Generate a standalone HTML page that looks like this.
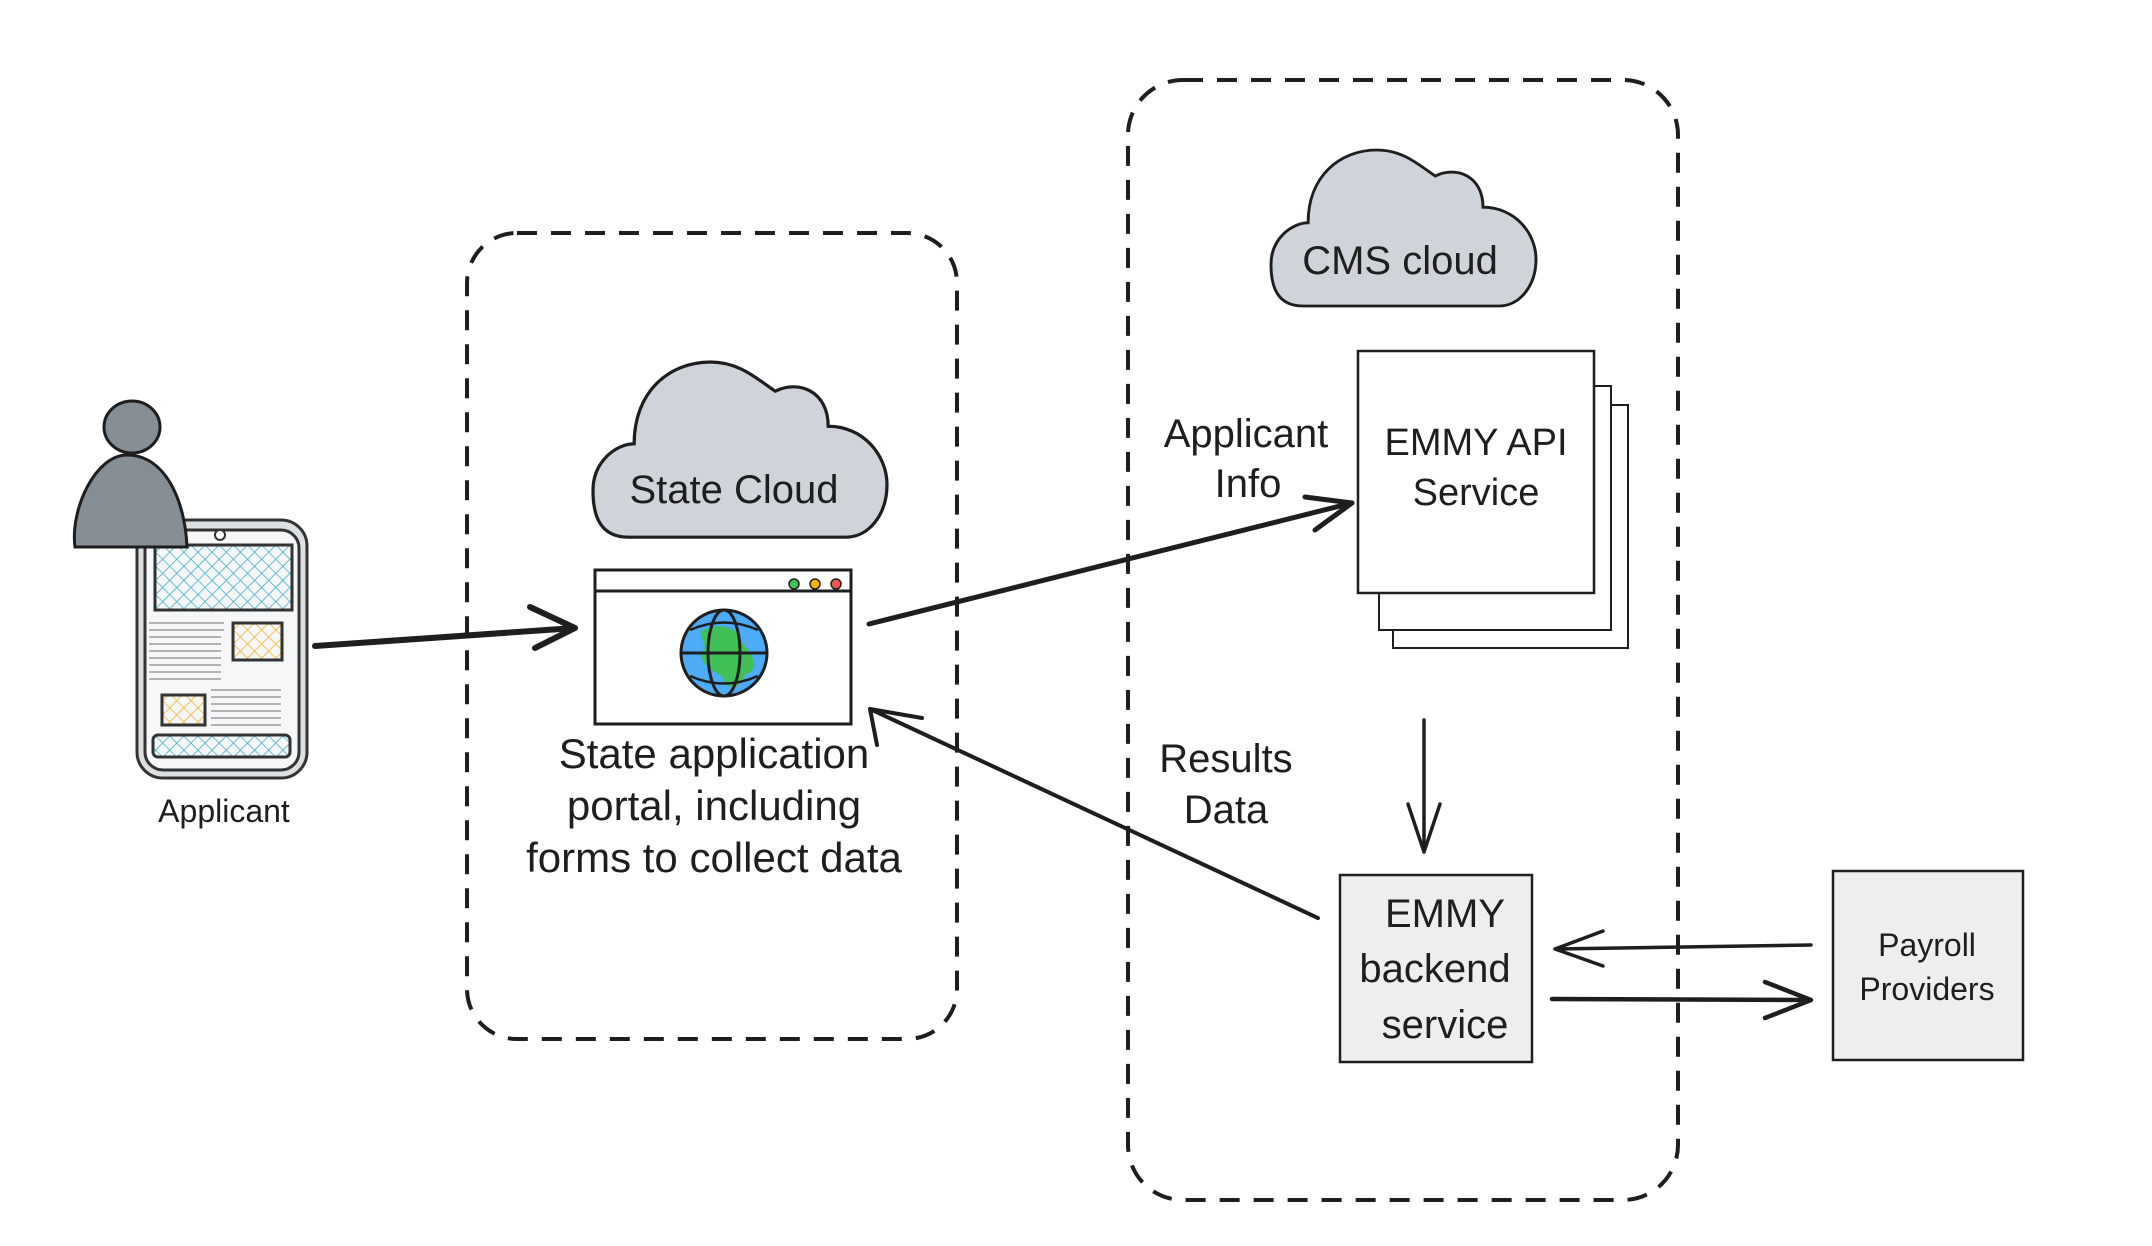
<!DOCTYPE html>
<html><head><meta charset="utf-8"><style>
html,body{margin:0;padding:0;background:#fff;}
svg{display:block;}
text{font-family:"Liberation Sans",sans-serif;fill:#1e1e1e;}
</style></head><body>
<svg width="2152" height="1246" viewBox="0 0 2152 1246" xmlns="http://www.w3.org/2000/svg">
<defs>
<pattern id="hb" width="10" height="10" patternUnits="userSpaceOnUse" patternTransform="rotate(45)">
<rect width="10" height="10" fill="#f6f7f9"/><path d="M0,0V10M0,0H10" stroke="#3fb0c8" stroke-width="1.6"/></pattern>
<pattern id="hy" width="10" height="10" patternUnits="userSpaceOnUse" patternTransform="rotate(45)">
<rect width="10" height="10" fill="#f6f7f9"/><path d="M0,0V10M0,0H10" stroke="#f4b52a" stroke-width="1.6"/></pattern>
<path id="cloud" d="M12,60 C2,60 0,52 0,44 C0,34 8,28 14,28 C14,10 26,0 40,0 C50,0 56,6 62,10 C70,6 80,10 80,22 C92,22 100,32 100,42 C100,52 94,60 86,60 Z"/>
</defs>

<rect x="467" y="233" width="490" height="806" rx="50" fill="none" stroke="#1e1e1e" stroke-width="4" stroke-dasharray="20 14"/>
<rect x="1128" y="80" width="550" height="1120" rx="55" fill="none" stroke="#1e1e1e" stroke-width="4" stroke-dasharray="20 14"/>

<rect x="137" y="520" width="170" height="258" rx="26" fill="#dde0e3" stroke="#333" stroke-width="3"/>
<rect x="145" y="530" width="154" height="240" rx="18" fill="#f6f7f9" stroke="#333" stroke-width="3"/>
<circle cx="220" cy="535" r="5" fill="#fff" stroke="#333" stroke-width="2"/>
<rect x="155" y="545" width="137" height="65" fill="url(#hb)" stroke="#333" stroke-width="3"/>
<rect x="233" y="623" width="49" height="37" fill="url(#hy)" stroke="#333" stroke-width="3"/>
<rect x="162" y="695" width="43" height="30" fill="url(#hy)" stroke="#333" stroke-width="3"/>
<rect x="153" y="735" width="137" height="22" rx="5" fill="url(#hb)" stroke="#333" stroke-width="3"/>
<g stroke="#888" stroke-width="1.2">
<path d="M149,623h75M149,630h75M149,637h72M149,644h72M149,651h72M149,658h72M149,665h72M149,672h72M149,679h72"/>
<path d="M211,690h70M211,697h70M211,704h70M211,711h70M211,718h70M211,725h70"/>
</g>

<ellipse cx="132" cy="427" rx="28" ry="26" fill="#868e96" stroke="#1e1e1e" stroke-width="3"/>
<path d="M75,547 C70,510 95,455 127,455 C165,455 185,500 187,547 Z" fill="#868e96" stroke="#1e1e1e" stroke-width="3"/>
<text x="224" y="822" font-size="32" text-anchor="middle">Applicant</text>

<use href="#cloud" transform="translate(593,362) scale(2.94,2.92)" fill="#ced4da" stroke="#1e1e1e" stroke-width="1.1"/>
<text x="734" y="503" font-size="40" text-anchor="middle">State Cloud</text>

<rect x="595" y="570" width="256" height="154" fill="#fff" stroke="#1e1e1e" stroke-width="3"/>
<line x1="595" y1="591" x2="851" y2="591" stroke="#1e1e1e" stroke-width="3"/>
<circle cx="794" cy="584" r="5" fill="#40c057" stroke="#1e1e1e" stroke-width="1.5"/>
<circle cx="815" cy="584" r="5" fill="#fab005" stroke="#1e1e1e" stroke-width="1.5"/>
<circle cx="836" cy="584" r="5" fill="#fa5252" stroke="#1e1e1e" stroke-width="1.5"/>
<circle cx="724" cy="653" r="43" fill="#4dabf7" stroke="#1e1e1e" stroke-width="3"/>
<path d="M700,632 C715,622 738,625 742,642 C752,655 762,668 745,675 C738,692 725,690 722,676 C710,670 695,660 705,648 Z" fill="#40c057"/>
<ellipse cx="724" cy="653" rx="16" ry="43" fill="none" stroke="#1e1e1e" stroke-width="3"/>
<line x1="681" y1="653" x2="767" y2="653" stroke="#1e1e1e" stroke-width="3"/>
<path d="M690,630 Q724,615 758,630 M690,676 Q724,691 758,676" fill="none" stroke="#1e1e1e" stroke-width="2.5"/>

<text font-size="42" text-anchor="middle"><tspan x="714" y="768">State application</tspan><tspan x="714" y="820">portal, including</tspan><tspan x="714" y="872">forms to collect data</tspan></text>

<use href="#cloud" transform="translate(1271,150) scale(2.65,2.6)" fill="#ced4da" stroke="#1e1e1e" stroke-width="1.1"/>
<text x="1400" y="274" font-size="40" text-anchor="middle">CMS cloud</text>

<rect x="1393" y="405" width="235" height="243" fill="#fff" stroke="#1e1e1e" stroke-width="2"/>
<rect x="1379" y="386" width="232" height="244" fill="#fff" stroke="#1e1e1e" stroke-width="2"/>
<rect x="1358" y="351" width="236" height="242" fill="#fff" stroke="#1e1e1e" stroke-width="2.5"/>
<text font-size="38" text-anchor="middle"><tspan x="1476" y="455">EMMY API</tspan><tspan x="1476" y="505">Service</tspan></text>

<text font-size="40" text-anchor="middle"><tspan x="1246" y="447">Applicant</tspan><tspan x="1248" y="497">Info</tspan></text>
<text font-size="40" text-anchor="middle"><tspan x="1226" y="772">Results</tspan><tspan x="1226" y="823">Data</tspan></text>

<rect x="1340" y="875" width="192" height="187" fill="#eeeeee" stroke="#1e1e1e" stroke-width="2.5"/>
<text font-size="40" text-anchor="middle"><tspan x="1445" y="927">EMMY</tspan><tspan x="1435" y="982">backend</tspan><tspan x="1445" y="1038">service</tspan></text>

<rect x="1833" y="871" width="190" height="189" fill="#eeeeee" stroke="#1e1e1e" stroke-width="2.5"/>
<text font-size="32" text-anchor="middle"><tspan x="1927" y="956">Payroll</tspan><tspan x="1927" y="1000">Providers</tspan></text>

<g fill="none" stroke="#1e1e1e" stroke-linecap="round" stroke-linejoin="round">
<path d="M315,646 L575,628 M530,607 L575,628 L535,648" stroke-width="6"/>
<path d="M869,624 L1352,503 M1305,497 L1352,503 L1315,530" stroke-width="5"/>
<path d="M1318,918 L870,709 M877,745 L870,709 L922,718" stroke-width="4"/>
<path d="M1424,720 L1424,852 M1408,804 L1424,852 L1440,804" stroke-width="3.5"/>
<path d="M1811,945 L1555,949 M1603,931 L1555,949 L1603,966" stroke-width="3.5"/>
<path d="M1552,999 L1811,1000 M1765,982 L1811,1000 L1765,1018" stroke-width="4.5"/>
</g>
</svg>
</body></html>
